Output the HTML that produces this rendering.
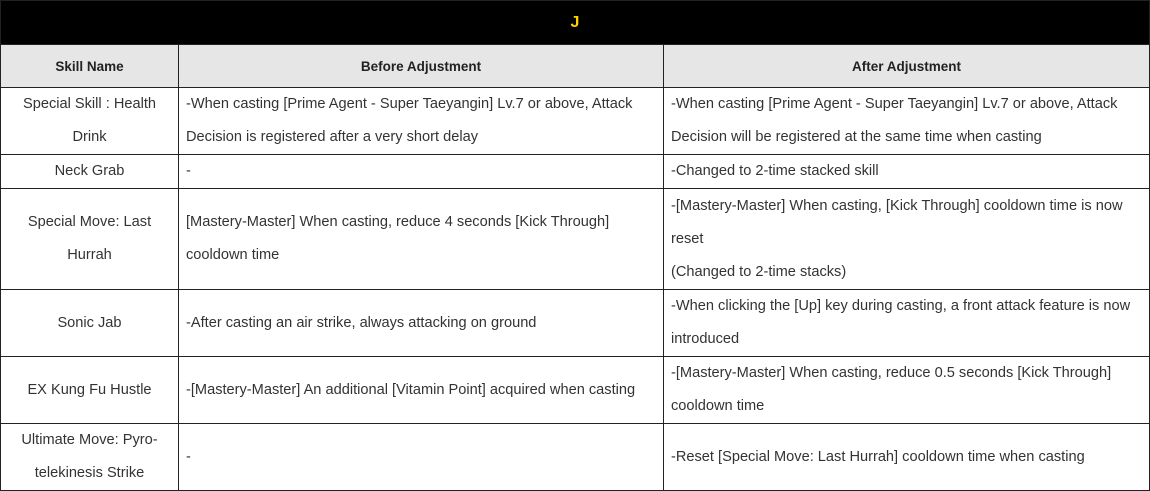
<!DOCTYPE html>
<html><head><style>
body{margin:0;width:1150px;height:490px;background:#fff;overflow:hidden;font-family:"Liberation Sans",sans-serif;}
table{position:absolute;left:0;top:0;border-collapse:collapse;table-layout:fixed;width:1149px;}
td,th{border:1px solid #222;font-size:14.6px;color:#333;line-height:33px;padding:0 7px;vertical-align:middle;white-space:nowrap;overflow:hidden;}
td.c{text-align:center;padding:0 4px;}
th{background:#e6e6e6;font-weight:bold;font-size:13.5px;color:#222;text-align:center;}
.top{background:#000;color:#ffd200;font-weight:bold;font-size:16px;height:43px;}
</style></head><body>
<table>
<colgroup><col style="width:178px"><col style="width:485px"><col style="width:486px"></colgroup>
<tr style="height:43px"><th colspan="3" class="top" style="background:#000;color:#ffd200">J</th></tr>
<tr style="height:43px"><th>Skill Name</th><th>Before Adjustment</th><th>After Adjustment</th></tr>
<tr style="height:67px"><td class="c">Special Skill : Health<br>Drink</td><td>-When casting [Prime Agent - Super Taeyangin] Lv.7 or above, Attack<br>Decision is registered after a very short delay</td><td>-When casting [Prime Agent - Super Taeyangin] Lv.7 or above, Attack<br>Decision will be registered at the same time when casting</td></tr>
<tr style="height:32px"><td class="c">Neck Grab</td><td>-</td><td>-Changed to 2-time stacked skill</td></tr>
<tr style="height:101px"><td class="c">Special Move: Last<br>Hurrah</td><td>[Mastery-Master] When casting, reduce 4 seconds [Kick Through]<br>cooldown time</td><td>-[Mastery-Master] When casting, [Kick Through] cooldown time is now<br>reset<br>(Changed to 2-time stacks)</td></tr>
<tr style="height:65px"><td class="c">Sonic Jab</td><td>-After casting an air strike, always attacking on ground</td><td>-When clicking the [Up] key during casting, a front attack feature is now<br>introduced</td></tr>
<tr style="height:67px"><td class="c">EX Kung Fu Hustle</td><td>-[Mastery-Master] An additional [Vitamin Point] acquired when casting</td><td>-[Mastery-Master] When casting, reduce 0.5 seconds [Kick Through]<br>cooldown time</td></tr>
<tr style="height:65px"><td class="c">Ultimate Move: Pyro-<br>telekinesis Strike</td><td>-</td><td>-Reset [Special Move: Last Hurrah] cooldown time when casting</td></tr>
</table>
</body></html>
